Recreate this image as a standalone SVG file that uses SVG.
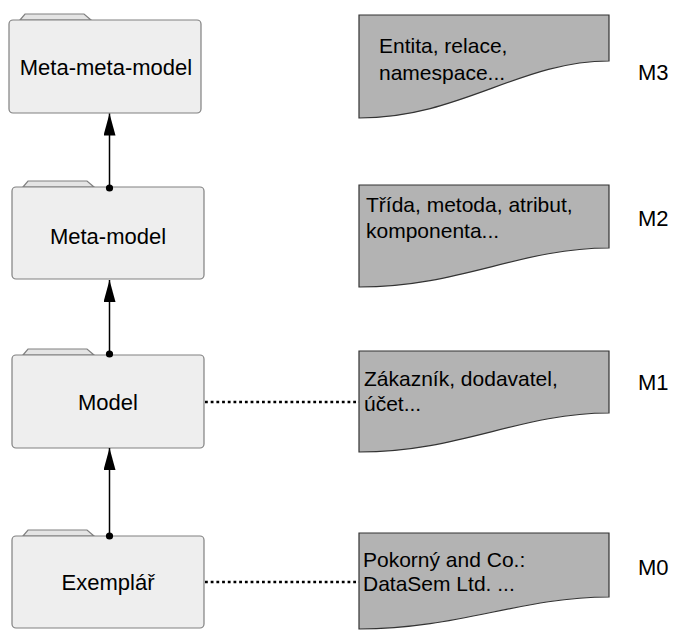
<svg xmlns="http://www.w3.org/2000/svg" width="674" height="630" viewBox="0 0 674 630">
<defs>
<style>
.body{fill:#eeeeee;stroke:#808080;stroke-width:1.2}
.tab{fill:#e4e4e4;stroke:#808080;stroke-width:1.2}
.doc{fill:#b3b3b3;stroke:#333333;stroke-width:1.2}
text{font-family:Liberation Sans,Arial,Helvetica,sans-serif;fill:#000}
.ft{font-size:22px;text-anchor:middle}
.dt{font-size:21px}
.ml{font-size:22px}
.arr{stroke:#000;stroke-width:1.5;fill:none}
.dot{stroke:#000;stroke-width:2.6;stroke-dasharray:2.8 2.9;fill:none}
</style>
<marker id="ah" markerWidth="22" markerHeight="12" refX="22" refY="6" orient="auto" markerUnits="userSpaceOnUse" viewBox="0 0 22 12">
<path d="M22,6 L0,0 L0,12 Z" fill="#000"/>
</marker>
</defs>
<rect width="674" height="630" fill="#ffffff"/>

<g id="folder-m3">
<path class="tab" d="M20,20 L25,14 L84,14 L91,20 Z"/>
<rect class="body" x="9" y="20" width="192" height="93" rx="4"/>
<text class="ft" x="106" y="75" font-family="Liberation Sans, Arial, sans-serif">Meta-meta-model</text>
</g>
<g id="folder-m2">
<path class="tab" d="M23,187 L28,181 L87,181 L94,187 Z"/>
<rect class="body" x="12" y="187" width="192" height="92" rx="4"/>
<text class="ft" x="108" y="244" font-family="Liberation Sans, Arial, sans-serif">Meta-model</text>
</g>
<g id="folder-m1">
<path class="tab" d="M23,355 L28,349 L87,349 L94,355 Z"/>
<rect class="body" x="12" y="355" width="192" height="93" rx="4"/>
<text class="ft" x="108" y="410" font-family="Liberation Sans, Arial, sans-serif">Model</text>
</g>
<g id="folder-m0">
<path class="tab" d="M23,536 L28,530 L87,530 L94,536 Z"/>
<rect class="body" x="12" y="536" width="192" height="92" rx="4"/>
<text class="ft" x="108" y="590" font-family="Liberation Sans, Arial, sans-serif">Exemplář</text>
</g>

<g id="doc-m3">
<path class="doc" d="M359,15 H609 V61 C520,61 460,118 359,118 Z"/>
<text class="dt" x="379" y="53" font-family="Liberation Sans, Arial, sans-serif">Entita, relace,</text>
<text class="dt" x="379" y="80" font-family="Liberation Sans, Arial, sans-serif">namespace...</text>
</g>
<g id="doc-m2">
<path class="doc" d="M359,185 H609 V248 C520,248 460,287 359,287 Z"/>
<text class="dt" x="366" y="212" font-family="Liberation Sans, Arial, sans-serif">Třída, metoda, atribut,</text>
<text class="dt" x="366" y="238" font-family="Liberation Sans, Arial, sans-serif">komponenta...</text>
</g>
<g id="doc-m1">
<path class="doc" d="M359,351 H609 V413 C520,413 460,452 359,452 Z"/>
<text class="dt" x="364" y="386" font-family="Liberation Sans, Arial, sans-serif">Zákazník, dodavatel,</text>
<text class="dt" x="364" y="411" font-family="Liberation Sans, Arial, sans-serif">účet...</text>
</g>
<g id="doc-m0">
<path class="doc" d="M359,533 H609 V597 C520,597 460,629 359,629 Z"/>
<text class="dt" x="363" y="567" font-family="Liberation Sans, Arial, sans-serif">Pokorný and Co.:</text>
<text class="dt" x="363" y="591" font-family="Liberation Sans, Arial, sans-serif">DataSem Ltd. ...</text>
</g>

<g id="labels">
<text class="ml" x="638" y="80" font-family="Liberation Sans, Arial, sans-serif">M3</text>
<text class="ml" x="638" y="226" font-family="Liberation Sans, Arial, sans-serif">M2</text>
<text class="ml" x="638" y="390" font-family="Liberation Sans, Arial, sans-serif">M1</text>
<text class="ml" x="638" y="575" font-family="Liberation Sans, Arial, sans-serif">M0</text>
</g>

<g id="connectors">
<line class="arr" x1="109.5" y1="187" x2="109.5" y2="113.5" marker-end="url(#ah)"/>
<circle cx="109.5" cy="188" r="3.6" fill="#000"/>
<line class="arr" x1="109.5" y1="355" x2="109.5" y2="280" marker-end="url(#ah)"/>
<circle cx="109.5" cy="354" r="3.6" fill="#000"/>
<line class="arr" x1="109.5" y1="536" x2="109.5" y2="448" marker-end="url(#ah)"/>
<circle cx="109.5" cy="536" r="3.6" fill="#000"/>
<line class="dot" x1="205" y1="402" x2="359" y2="402"/>
<line class="dot" x1="205" y1="582" x2="359" y2="582"/>
</g>
</svg>
